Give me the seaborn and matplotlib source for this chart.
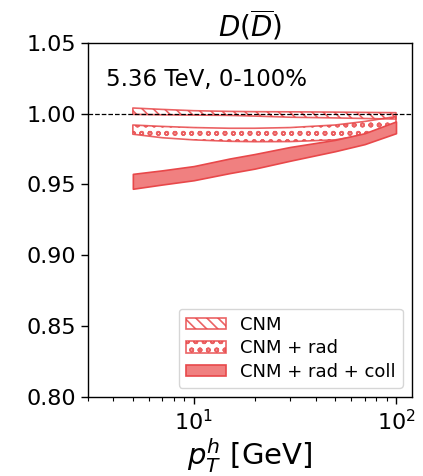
import numpy as np
import matplotlib
matplotlib.use("Agg")
import matplotlib.pyplot as plt
import seaborn as sns
import pandas as pd

pt = [5, 7, 10, 15, 20, 30, 50, 70, 100]
cnm_lo = [0.9995, 0.9992, 0.9990, 0.9988, 0.9983, 0.9975, 0.9970, 0.9966, 0.9962]
cnm_hi = [1.0040, 1.0030, 1.0021, 1.0016, 1.0014, 1.0013, 1.0011, 1.0009, 1.0007]
rad_lo = [0.9855, 0.9830, 0.9815, 0.9805, 0.9802, 0.9803, 0.9815, 0.9850, 0.9920]
rad_hi = [0.9920, 0.9910, 0.9902, 0.9897, 0.9897, 0.9902, 0.9920, 0.9945, 0.9980]
coll_lo = [0.9470, 0.9500, 0.9530, 0.9580, 0.9612, 0.9668, 0.9735, 0.9785, 0.9862]
coll_hi = [0.9575, 0.9600, 0.9630, 0.9683, 0.9715, 0.9765, 0.9815, 0.9862, 0.9945]
labels = ["CNM", "CNM + rad", "CNM + rad + coll"]

sns.set_theme(style="ticks")
plt.rcParams['font.family'] = ['DejaVu Sans']
plt.rcParams['hatch.linewidth'] = 1.2
for k in ['text.color', 'axes.labelcolor', 'xtick.color', 'ytick.color']:
    plt.rcParams[k] = 'black'

fig = plt.figure(figsize=(4.23, 4.76), dpi=100)
ax = fig.add_axes([0.208, 0.166, 0.766, 0.744])

edge = '#e8484a'
face = '#f08080'

ax.fill_between(pt, cnm_lo, cnm_hi, facecolor='none', edgecolor=edge, hatch='\\\\\\',
                linewidth=1.2, alpha=0.85, label=labels[0])
ax.fill_between(pt, rad_lo, rad_hi, facecolor='none', edgecolor=edge, hatch='oo',
                linewidth=1.2, alpha=0.85, label=labels[1])
ax.fill_between(pt, coll_lo, coll_hi, facecolor=face, edgecolor=edge,
                linewidth=1.2, alpha=1.0, label=labels[2])

ax.axhline(1.0, color='black', linestyle='--', linewidth=0.9)

ax.set_xscale('log')
ax.set_xlim(3, 120)
ax.set_ylim(0.80, 1.05)
ax.set_yticks([0.80, 0.85, 0.90, 0.95, 1.00, 1.05])
ax.set_yticklabels(["0.80", "0.85", "0.90", "0.95", "1.00", "1.05"])
ax.tick_params(axis='both', which='major', labelsize=16, length=5, width=1, color='black')
ax.tick_params(axis='x', which='minor', length=3, width=0.8, color='black')
for s in ax.spines.values():
    s.set_color('black')
    s.set_linewidth(1.0)

ax.set_title(r'$D(\overline{D})$', fontsize=20, pad=4)
ax.set_xlabel(r'$p_T^h$ [GeV]', fontsize=21, labelpad=2)
ax.text(0.055, 0.93, '5.36 TeV, 0-100%', transform=ax.transAxes, fontsize=16.5,
        va='top', ha='left')
ax.legend(loc='lower right', fontsize=13, frameon=True, borderaxespad=0.5,
          labelspacing=0.3, handlelength=2.2, handleheight=0.6)

fig.savefig('out.png', dpi=100)
